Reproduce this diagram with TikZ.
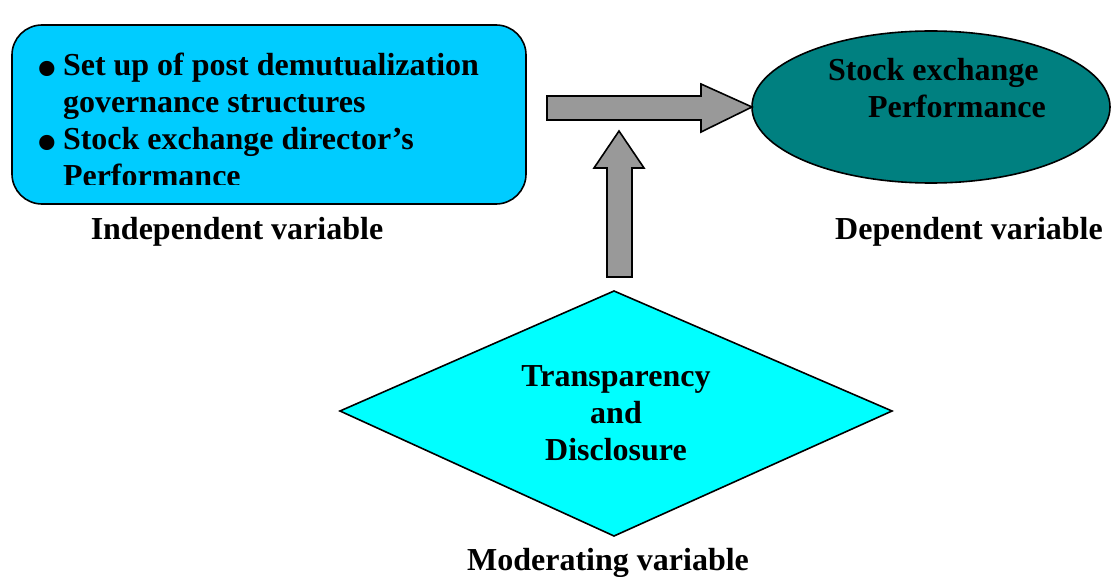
\documentclass[tikz,border=0pt]{standalone}
\usepackage{fontspec}
\setmainfont{Liberation Serif}
\usetikzlibrary{shapes.geometric}

\definecolor{boxblue}{RGB}{0,204,255}
\definecolor{ovalteal}{RGB}{0,128,128}
\definecolor{kitecyan}{RGB}{0,255,255}
\definecolor{arrowgray}{RGB}{153,153,153}

\newcommand{\itembullet}{\makebox[11.5pt][l]{\hspace*{-1.5pt}\raisebox{-5.8pt}{\fontsize{28}{0}\selectfont\textbullet}}}

\begin{document}
\begin{tikzpicture}[x=0.5pt,y=-0.5pt, every node/.style={font=\fontsize{16}{18.5}\selectfont\bfseries, inner sep=0pt, outer sep=0pt}, shape line/.style={draw=black, line width=0.8pt}]
\useasboundingbox (0,0) rectangle (1112,577);

% independent variable (last line is cut by the box frame)
\draw[shape line, fill=boxblue, rounded corners=15pt] (12,25) rectangle (526,204);
\begin{scope}
\clip (12,25) rectangle (526,185);
\node[anchor=base west, align=left] (ind) at (40,187) {\itembullet Set up of post demutualization\\\hspace*{11.5pt}governance structures\\\itembullet Stock exchange director’s\\\hspace*{11.5pt}Performance};
\end{scope}
\node[anchor=base] (indlabel) at (237,240) {Independent variable};

% dependent variable
\node[ellipse, shape line, fill=ovalteal, minimum width=179pt, minimum height=76pt] (dep) at (931,107) {};
\node[anchor=base west, align=left] (depname) at (828,118) {Stock exchange\\\hspace*{20pt}Performance};
\node[anchor=base] (deplabel) at (969,240) {Dependent variable};

% moderating variable
\draw[shape line, fill=kitecyan] (340,411) -- (614,291) -- (892,411) -- (614,536) -- cycle;
\node[anchor=base, align=center] (mod) at (616,460) {Transparency\\and\\Disclosure};
\node[anchor=base] (modlabel) at (608,570) {Moderating variable};

% block arrows
\draw[shape line, fill=arrowgray] (547,96) -- (701,96) -- (701,84) -- (dep.west) -- (701,132) -- (701,120) -- (547,120) -- cycle;
\draw[shape line, fill=arrowgray] (607,277) -- (607,168) -- (594,168) -- (619,131) -- (644,168) -- (632,168) -- (632,277) -- cycle;
\end{tikzpicture}
\end{document}
